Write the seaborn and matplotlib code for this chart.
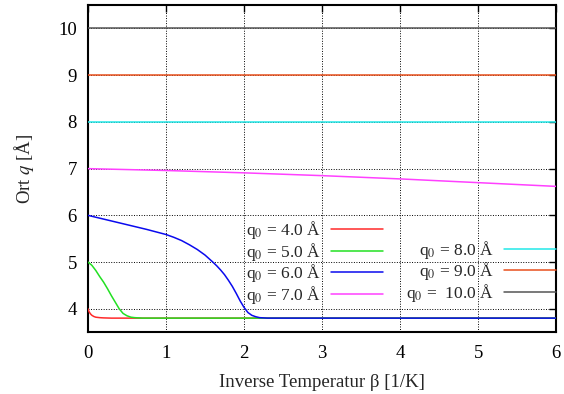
import numpy as np
import pandas as pd
import matplotlib
matplotlib.use("Agg")
import matplotlib.pyplot as plt
from matplotlib.lines import Line2D
import seaborn as sns

# Relaxation of the position q for different start values q0
beta_q4 = [0.0, 0.01, 0.02, 0.035, 0.05, 0.075, 0.1, 0.15, 0.2, 0.3, 0.4, 6.0]
q_q4 = [4.0, 3.95, 3.92, 3.885, 3.86, 3.835, 3.82, 3.81, 3.805, 3.80, 3.80, 3.80]

beta_q5 = [0.0, 0.05, 0.1, 0.15, 0.2, 0.25, 0.3, 0.35, 0.4, 0.45, 0.5, 0.55, 0.6, 0.7, 6.0]
q_q5 = [5.0, 4.93, 4.82, 4.69, 4.57, 4.43, 4.28, 4.14, 4.00, 3.90, 3.85, 3.82, 3.81, 3.80, 3.80]

beta_q6 = [0.0, 0.25, 0.5, 0.75, 1.0, 1.1, 1.2, 1.3, 1.4, 1.5, 1.6, 1.65, 1.7, 1.75,
           1.8, 1.85, 1.9, 1.95, 2.0, 2.05, 2.1, 2.15, 2.2, 2.3, 6.0]
q_q6 = [6.0, 5.90, 5.80, 5.70, 5.59, 5.53, 5.46, 5.37, 5.27, 5.15, 5.00, 4.92, 4.83, 4.73,
        4.61, 4.48, 4.33, 4.17, 4.03, 3.92, 3.86, 3.83, 3.81, 3.80, 3.80]

beta_q7 = [0.0, 1.0, 2.0, 3.0, 4.0, 5.0, 6.0]
q_q7 = [7.0, 6.96, 6.91, 6.85, 6.78, 6.70, 6.62]

beta_const = [0.0, 6.0]
q_q8 = [8.0, 8.0]
q_q9 = [9.0, 9.0]
q_q10 = [10.0, 10.0]

labels = ["q$_0$ = 4.0 Å", "q$_0$ = 5.0 Å", "q$_0$ = 6.0 Å", "q$_0$ = 7.0 Å",
          "q$_0$ = 8.0 Å", "q$_0$ = 9.0 Å", "q$_0$ =  10.0 Å"]
colors = ["#ff2a2a", "#22e022", "#0a0aee", "#ff40ff", "#22e8e8", "#e8501c", "#555555"]

series = [(beta_q4, q_q4), (beta_q5, q_q5), (beta_q6, q_q6), (beta_q7, q_q7),
          (beta_const, q_q8), (beta_const, q_q9), (beta_const, q_q10)]

FS = 13.5
LEG_FS = 12.5

sns.set_style("white")
plt.rcParams["font.family"] = ["Liberation Serif", "DejaVu Serif"]
plt.rcParams["mathtext.fontset"] = "stix"
plt.rcParams["font.size"] = FS

fig = plt.figure(figsize=(5.64, 3.94), dpi=100)
ax = fig.add_axes([0.156, 0.157, 0.830, 0.830])

handles = []
for (b, q), lab, col in zip(series, labels, colors):
    df = pd.DataFrame({"beta": b, "q": q})
    sns.lineplot(data=df, x="beta", y="q", color=col, linewidth=1.1, ax=ax,
                 legend=False, zorder=3)
    handles.append(Line2D([], [], color=col, linewidth=1.1))

ax.set_xlim(0, 6)
ax.set_ylim(3.5, 10.5)
ax.set_xticks(range(0, 7))
ax.set_yticks(range(4, 11))
ax.grid(True, color="black", linestyle=(0, (1, 1.6)), linewidth=0.7, zorder=1)
ax.set_axisbelow(True)

for s in ax.spines.values():
    s.set_linewidth(1.5)
    s.set_color("black")
ax.tick_params(direction="in", length=5, width=1, top=True, right=True,
               colors="black", labelsize=FS)
ax.tick_params(axis="x", pad=9)
ax.tick_params(axis="y", pad=8)

ax.set_xlabel("Inverse Temperatur β [1/K]", fontsize=FS, labelpad=9)
ax.set_ylabel("Ort $q$ [Å]", fontsize=FS, labelpad=16)

# two-column key, second column aligned to the bottom
blank = Line2D([], [], color="none")
leg_handles = handles[:4] + [blank] + handles[4:]
leg_labels = labels[:4] + [" "] + labels[4:]
ax.legend(leg_handles, leg_labels, ncol=2, loc="lower right",
          bbox_to_anchor=(1.0, 0.08), frameon=False, markerfirst=False,
          handlelength=3.0, handletextpad=0.6, columnspacing=1.3,
          labelspacing=-0.02, borderpad=0.0, borderaxespad=0.0, fontsize=LEG_FS)

fig.savefig("out.png", dpi=100)
